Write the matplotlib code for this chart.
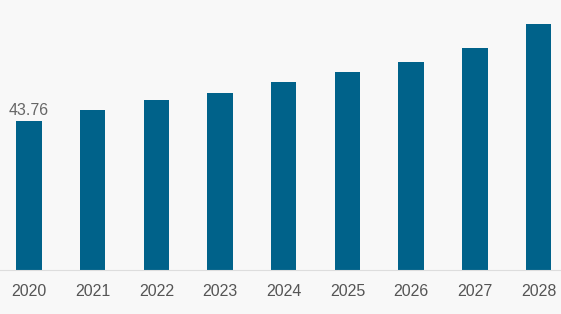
import matplotlib
matplotlib.use('Agg')
import matplotlib.pyplot as plt
import numpy as np

years = ['2020', '2021', '2022', '2023', '2024', '2025', '2026', '2027', '2028']
values = [43.76, 47.0, 49.9, 52.0, 55.2, 58.2, 61.1, 65.2, 72.3]

plt.rcParams['font.family'] = ['Liberation Sans', 'DejaVu Sans']

bg = '#f8f8f8'
fig = plt.figure(figsize=(5.61, 3.14), dpi=100, facecolor=bg)
ax = fig.add_axes([0, 0.14, 1, 0.86], facecolor=bg)

x = np.arange(len(years))
ax.bar(x, values, width=0.4, color='#00628a')
ax.text(x[0], values[0] + 1.0, '%.2f' % values[0], ha='center', va='bottom',
        fontsize=11.5, color='#666666')

ax.set_xlim(-0.455, 8.353)
ax.set_ylim(0, 79.3)
ax.set_yticks([])
ax.set_xticks(x)
ax.set_xticklabels(years, fontsize=11.5, color='#555555')
ax.tick_params(axis='x', length=0, pad=10)
for s in ['top', 'right', 'left']:
    ax.spines[s].set_visible(False)
ax.spines['bottom'].set_color('#dddddd')

fig.savefig('out.png', dpi=100, facecolor=bg)
